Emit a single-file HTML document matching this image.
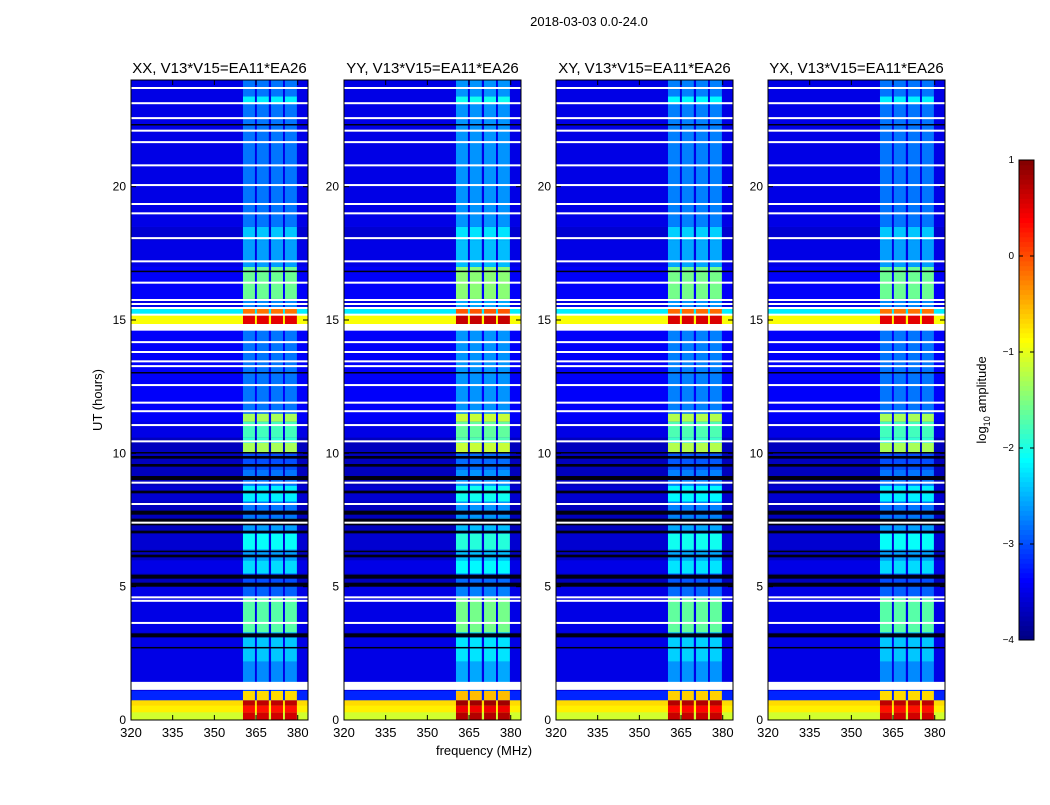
<!DOCTYPE html>
<html><head><meta charset="utf-8"><style>
body{margin:0;background:#fff;width:1050px;height:800px;overflow:hidden}
svg text{font-family:"Liberation Sans",sans-serif}
</style></head><body>
<svg id="fig" width="1050" height="800" xmlns="http://www.w3.org/2000/svg">
<text x="589" y="26" font-size="13" text-anchor="middle">2018-03-03 0.0-24.0</text>
<text x="484" y="755" font-size="13" text-anchor="middle">frequency (MHz)</text>
<text x="0" y="0" font-size="13" text-anchor="middle" transform="translate(102,400) rotate(-90)">UT (hours)</text>
<g id="panels"></g>
<g id="cbar"></g>
</svg>
<script>
// ---- data (log10 amplitude) ----
const panelTitles = ["XX, V13*V15=EA11*EA26","YY, V13*V15=EA11*EA26","XY, V13*V15=EA11*EA26","YX, V13*V15=EA11*EA26"];
const panelBandOffset = [0, 0.15, 0.05, 0];
const segStart = [0,0.3,0.55,0.75,1.1,1.4,2.2,3.1,3.3,4.6,5.0,5.5,6.0,6.4,7.0,7.6,8.2,8.8,9.4,10.0,10.4,10.6,11.2,11.5,14.85,15.2,15.5,15.8,17.0,18.0,18.5,23.1,23.4];
const segBg    = [-1.1,-0.8,-0.7,-3.2,-3.5,-3.5,-3.5,-3.6,-3.5,-3.5,-3.7,-3.5,-3.7,-3.6,-3.7,-3.7,-3.6,-3.7,-3.7,-3.7,-3.7,-3.5,-3.4,-3.4,-0.9,-2.2,-3.5,-3.4,-3.5,-3.6,-3.5,-3.5,-3.5];
const segBand  = [0.6,0.3,0.7,-0.7,-3.0,-2.7,-2.4,-2.4,-1.7,-2.9,-3.0,-2.3,-2.6,-2.1,-2.6,-2.8,-2.2,-2.8,-3.0,-1.3,-1.9,-1.8,-1.3,-2.8,0.5,-0.2,-2.7,-1.6,-2.6,-2.4,-2.8,-2.2,-2.8];
const subbandStart = [360.3,365.3,370.4,375.4];
const subbandWidth = 4.3;
const whiteLines = [23.7,23.13,22.57,22.1,21.67,20.8,20.06,19.35,19.0,18.07,17.2,16.4,15.75,15.6,15.45,15.2,14.17,13.8,13.45,13.27,12.56,11.9,11.58,11.06,10.45,8.9,8.1,7.4,4.6,4.47,3.64];
const whiteBlocks = [[14.6,14.85],[1.13,1.43]];
const blackLines = [[2.7,2.74],[3.1,3.25],[5.0,5.15],[5.3,5.45],[6.1,6.2],[6.3,6.35],[7.0,7.1],[7.3,7.55],[7.7,7.85],[8.5,8.6],[9.0,9.15],[9.5,9.6],[9.8,9.9],[10.0,10.05],[13.0,13.05],[16.8,16.85],[22.3,22.35]];
const yTicks = [0,5,10,15,20];
const xTicks = [320,335,350,365,380];
const cbarTicks = [1,0,-1,-2,-3,-4];

// ---- layout ----
const panelX = [131,344,556,768], PW=177, PT=80, PB=720;
const F0=320, F1=383.7, T0=0, T1=24;
function jet(v){
  let t=Math.max(0,Math.min(1,(v+4)/5));
  const r=Math.max(0,Math.min(1,Math.min(4*t-1.5,-4*t+4.5)));
  const g=Math.max(0,Math.min(1,Math.min(4*t-0.5,-4*t+3.5)));
  const b=Math.max(0,Math.min(1,Math.min(4*t+0.5,-4*t+2.5)));
  return `rgb(${Math.round(r*255)},${Math.round(g*255)},${Math.round(b*255)})`;
}
const NS="http://www.w3.org/2000/svg";
function mk(tag,attrs,parent){const e=document.createElementNS(NS,tag);for(const k in attrs)e.setAttribute(k,attrs[k]);parent.appendChild(e);return e;}
const root=document.getElementById('panels');
panelX.forEach((px,pi)=>{
  const xs=f=>px+(f-F0)/(F1-F0)*PW;
  const ys=h=>PB-(h-T0)/(T1-T0)*(PB-PT);
  const g=mk('g',{},root);
  
  
  const img=mk('g',{},g);
  
  
  segStart.forEach((s,i)=>{
    const e=i+1<segStart.length?segStart[i+1]:T1;
    const y=ys(e), h=ys(s)-ys(e);
    const bg=mk('rect',{x:px,y:y,width:PW,height:h+0.3,fill:jet(segBg[i])},img);
    
    
    subbandStart.forEach(f=>{
      const r=mk('rect',{x:xs(f),y:y,width:xs(f+subbandWidth)-xs(f),height:h+0.3,fill:jet(segBand[i]+panelBandOffset[pi])},img);
      
      
    });
  });
  blackLines.forEach(([a,b])=>{
    const r=mk('rect',{x:px,y:ys(b),width:PW,height:Math.max(1.5,ys(a)-ys(b)),fill:'#000010'},img);
    
    
  });
  whiteLines.forEach(h=>{
    const r=mk('rect',{x:px,y:ys(h)-1,width:PW,height:2,fill:'#fff'},img);
    
    
  });
  whiteBlocks.forEach(([a,b])=>{
    const r=mk('rect',{x:px,y:ys(b),width:PW,height:ys(a)-ys(b),fill:'#fff'},img);
    
    
  });
  const fr=mk('rect',{x:px,y:PT,width:PW,height:PB-PT,fill:'none',stroke:'#000','stroke-width':1},g);
  
  
  const t=mk('text',{x:px+PW/2,y:PT-7,'font-size':15,'text-anchor':'middle'},g);
  t.textContent=panelTitles[pi];
  
  
  yTicks.forEach(v=>{
    const y=ys(v);
    mk('line',{x1:px,x2:px+5,y1:y,y2:y,stroke:'#000'},g);
    mk('line',{x1:px+PW,x2:px+PW-5,y1:y,y2:y,stroke:'#000'},g);
    const l=mk('text',{x:px-5,y:y+4,'font-size':12,'text-anchor':'end'},g);
    l.textContent=v;
    
    
  });
  xTicks.forEach(v=>{
    const x=xs(v);
    mk('line',{x1:x,x2:x,y1:PB,y2:PB-5,stroke:'#000'},g);
    mk('line',{x1:x,x2:x,y1:PT,y2:PT+5,stroke:'#000'},g);
    const l=mk('text',{x:x,y:PB+17,'font-size':13,'text-anchor':'middle'},g);
    l.textContent=v;
    
    
  });
});
// colorbar
const cb=document.getElementById('cbar');
const CX=1019,CW=15,CT=160,CB=640;
const cys=v=>CB-(v+4)/5*(CB-CT);
for(let i=0;i<100;i++){
  const v0=-4+i*0.05;
  mk('rect',{x:CX,y:cys(v0+0.05),width:CW,height:(CB-CT)/100+0.5,fill:jet(v0+0.025)},cb);
}
mk('rect',{x:CX,y:CT,width:CW,height:CB-CT,fill:'none',stroke:'#000'},cb);
cbarTicks.forEach(v=>{
  const y=cys(v);
  mk('line',{x1:CX,x2:CX+4,y1:y,y2:y,stroke:'#000'},cb);
  mk('line',{x1:CX+CW,x2:CX+CW-4,y1:y,y2:y,stroke:'#000'},cb);
  const l=mk('text',{x:CX-5,y:y+3,'font-size':10,'text-anchor':'end'},cb);
  l.textContent=v<0?'\u2212'+(-v):v;
  
  
});
const cl=mk('text',{'font-size':13,'text-anchor':'middle',transform:'translate(986,400) rotate(-90)'},cb);
cl.innerHTML='log<tspan font-size="9" dy="4">10</tspan><tspan dy="-4"> amplitude</tspan>';


</script>
</body></html>
